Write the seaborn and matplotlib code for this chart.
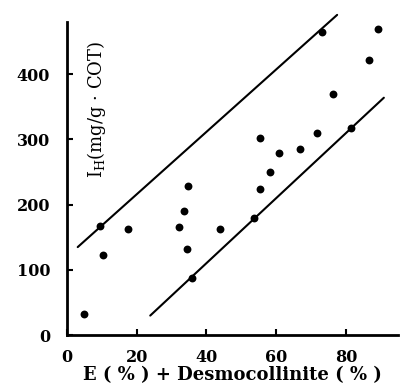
import matplotlib
matplotlib.use("Agg")
import matplotlib.pyplot as plt
import seaborn as sns
import pandas as pd

# Data
x_vals = [5.0, 9.4, 10.3, 17.5, 34.7, 33.7, 32.1, 34.3, 35.9, 43.8, 53.7,
          55.3, 55.5, 58.3, 60.7, 66.8, 71.6, 73.2, 76.4, 81.5, 86.6, 89.2]
y_vals = [33, 167, 123, 163, 229, 191, 166, 132, 88, 163, 179,
          224, 303, 250, 279, 285, 310, 465, 370, 318, 422, 470]
upper_x = [3.1, 77.5]
upper_y = [135, 491]
lower_x = [23.9, 90.9]
lower_y = [30, 364]
x_ticks = [0, 20, 40, 60, 80]
y_ticks = [0, 100, 200, 300, 400]

df = pd.DataFrame({"x": x_vals, "y": y_vals})

sns.set_theme(style="ticks")
plt.rcParams["font.family"] = ["DejaVu Serif"]

fig = plt.figure(figsize=(4.03, 3.87), dpi=100)
ax = fig.add_axes([0.166, 0.134, 0.822, 0.809])

sns.scatterplot(data=df, x="x", y="y", ax=ax, color="black", s=32,
                edgecolor="black", linewidth=0, marker="o", clip_on=False)
sns.lineplot(x=upper_x, y=upper_y, ax=ax, color="black", linewidth=1.5,
             clip_on=False, estimator=None)
sns.lineplot(x=lower_x, y=lower_y, ax=ax, color="black", linewidth=1.5,
             clip_on=False, estimator=None)

ax.set_xlim(0, 95)
ax.set_ylim(0, 480)
ax.set_xticks(x_ticks)
ax.set_yticks(y_ticks)
ax.set_xticklabels([str(t) for t in x_ticks], fontsize=11.5, fontweight="bold")
ax.set_yticklabels([str(t) for t in y_ticks], fontsize=11.5, fontweight="bold")
ax.tick_params(direction="in", length=4, width=1.5, color="black",
               labelcolor="black")
ax.tick_params(axis="y", pad=12)
ax.tick_params(axis="x", pad=10)
for side in ["top", "right"]:
    ax.spines[side].set_visible(False)
for side in ["left", "bottom"]:
    ax.spines[side].set_linewidth(2)
    ax.spines[side].set_color("black")

ax.set_xlabel("E ( % ) + Desmocollinite ( % )", fontsize=13, fontweight="bold",
              color="black", labelpad=0)
ax.set_ylabel("")
ax.text(0.09, 0.72, r"I$_\mathregular{H}$(mg/g · COT)", transform=ax.transAxes,
        rotation=90, ha="center", va="center", fontsize=13, color="black")

fig.savefig("out.png", dpi=100)
